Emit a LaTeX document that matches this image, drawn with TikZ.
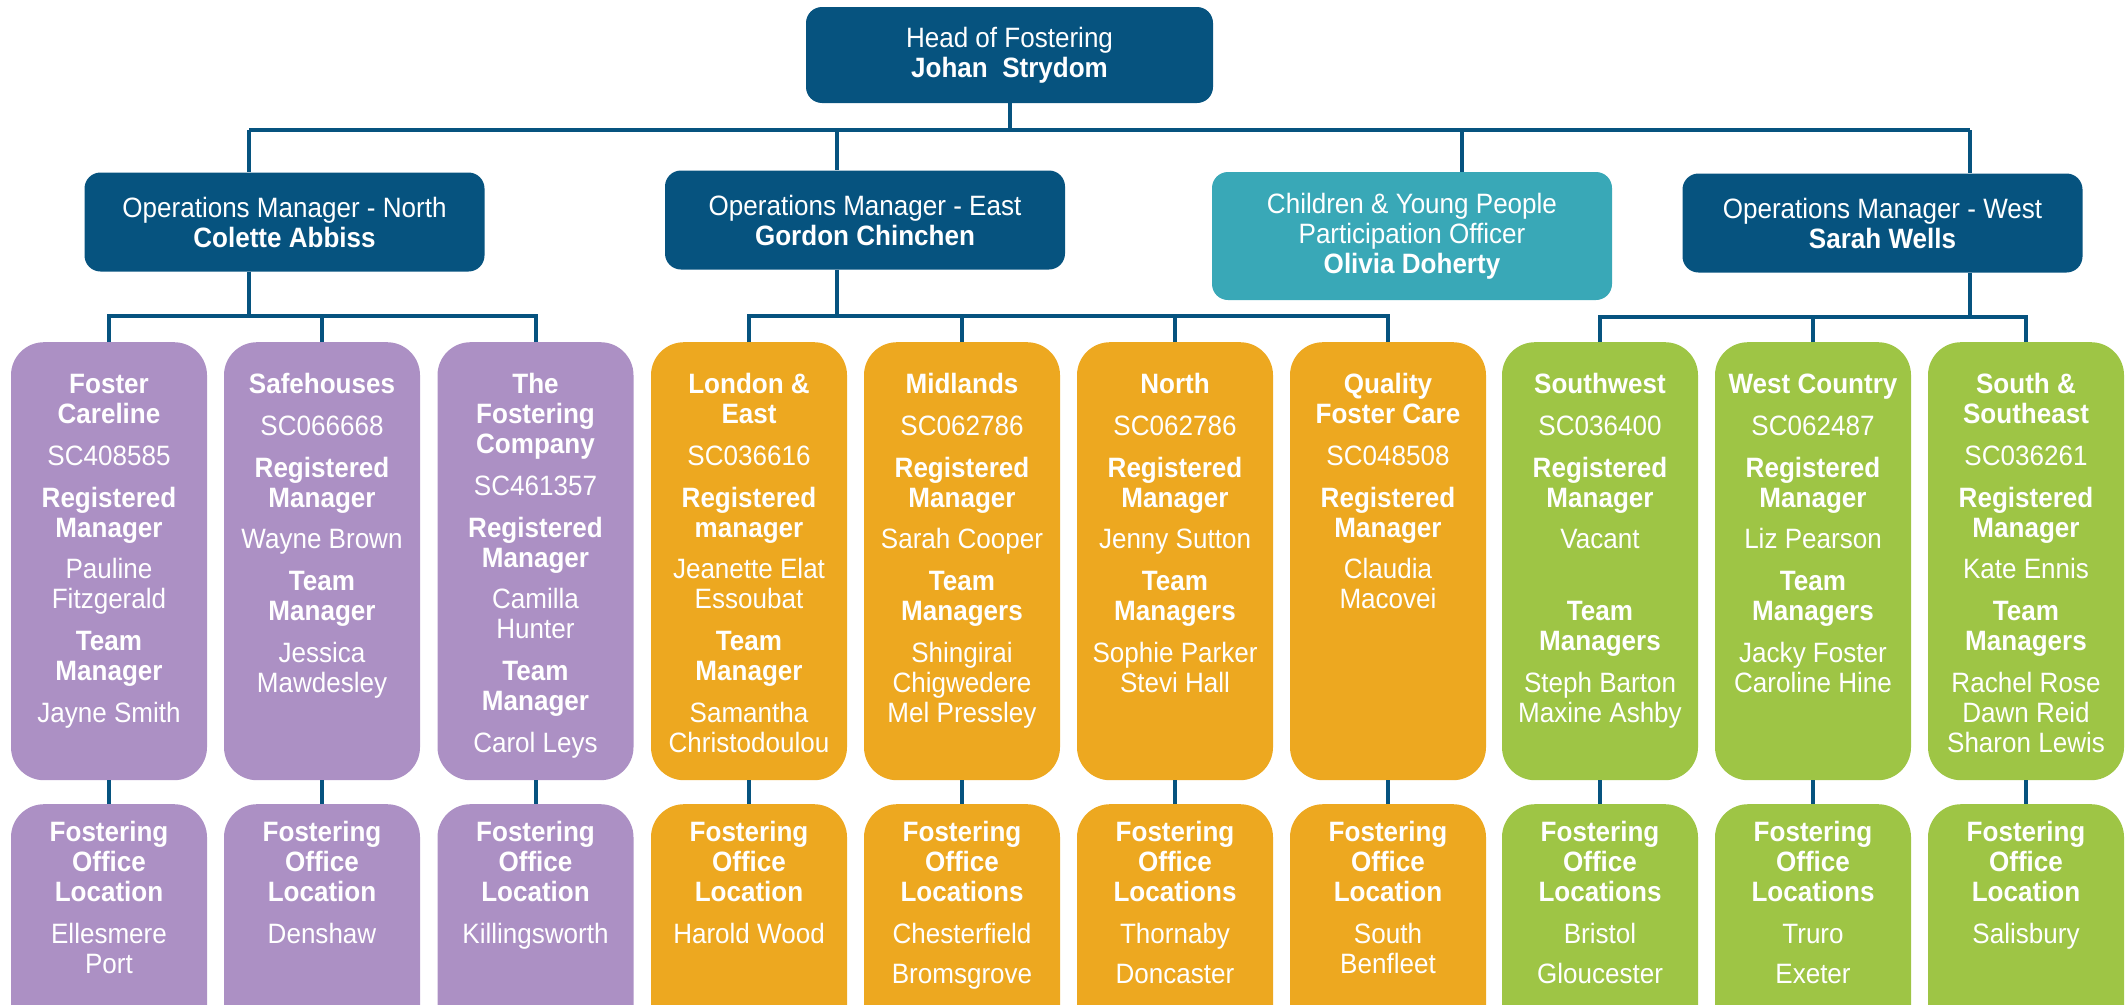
\documentclass[tikz,border=0pt]{standalone}
\usepackage{fontspec}
\setmainfont{Liberation Sans}[FakeStretch=0.93]
\usetikzlibrary{positioning,calc}
\definecolor{fosterblue}{RGB}{6,83,127}
\definecolor{youthteal}{RGB}{57,168,183}
\definecolor{northpurple}{RGB}{172,144,196}
\definecolor{eastorange}{RGB}{237,168,32}
\definecolor{westgreen}{RGB}{158,197,69}
\newcommand{\grp}{\par\vspace{11.7pt}}
\newcommand{\unittext}[1]{\parbox[c][438pt][t]{196pt}{\centering\vspace*{30.6pt}\strut#1}}
\newcommand{\officetext}[1]{\parbox[c][240pt][t]{196pt}{\centering\vspace*{16.7pt}\strut#1}}
\tikzset{
headbox/.style = {fill=fosterblue, rounded corners=16pt, text=white, align=center, inner sep=0pt, minimum width=407pt, minimum height=96pt, font=\fontsize{28}{30}\selectfont},
opsbox/.style = {headbox, minimum width=400pt, minimum height=99pt},
unitbox/.style = {rounded corners=33pt, text=white, inner sep=0pt, anchor=north, font=\fontsize{28}{30}\selectfont},
link/.style = {draw=fosterblue, line width=4pt}
}
\begin{document}
\begin{tikzpicture}[x=1pt, y=-1pt]
  \useasboundingbox (0,0) rectangle (2128,1004);
  \clip (0,0) rectangle (2128,1004);

  \node [headbox] (head) at (1009.5,55) {Head of Fostering\\\textbf{Johan~~Strydom}};
  \node [opsbox] (opn) at (284.5,222) {Operations Manager - North\\\textbf{Colette Abbiss}};
  \node [opsbox] (ope) at (865,220) {Operations Manager - East\\\textbf{Gordon Chinchen}};
  \node [opsbox, fill=youthteal, minimum height=128pt] (cyp) at (1412,236) {Children \& Young People\\Participation Officer\\\textbf{Olivia Doherty}};
  \node [opsbox] (opw) at (1882.5,223) {Operations Manager - West\\\textbf{Sarah Wells}};

  \node [unitbox, fill=northpurple] (u1) at (109,342) {\unittext{\textbf{Foster\\Careline}\grp SC408585\grp\textbf{Registered\\Manager}\grp Pauline\\Fitzgerald\grp\textbf{Team\\Manager}\grp Jayne Smith}};
  \node [unitbox, fill=northpurple] (u2) at (322,342) {\unittext{\textbf{Safehouses}\grp SC066668\grp\textbf{Registered\\Manager}\grp Wayne Brown\grp\textbf{Team\\Manager}\grp Jessica\\Mawdesley}};
  \node [unitbox, fill=northpurple] (u3) at (535.5,342) {\unittext{\textbf{The\\Fostering\\Company}\grp SC461357\grp\textbf{Registered\\Manager}\grp Camilla\\Hunter\grp\textbf{Team\\Manager}\grp Carol Leys}};
  \node [unitbox, fill=eastorange] (u4) at (749,342) {\unittext{\textbf{London \&\\East}\grp SC036616\grp\textbf{Registered\\manager}\grp Jeanette Elat\\Essoubat\grp\textbf{Team\\Manager}\grp Samantha\\Christodoulou}};
  \node [unitbox, fill=eastorange] (u5) at (962,342) {\unittext{\textbf{Midlands}\grp SC062786\grp\textbf{Registered\\Manager}\grp Sarah Cooper\grp\textbf{Team\\Managers}\grp Shingirai\\Chigwedere\\Mel Pressley}};
  \node [unitbox, fill=eastorange] (u6) at (1175,342) {\unittext{\textbf{North}\grp SC062786\grp\textbf{Registered\\Manager}\grp Jenny Sutton\grp\textbf{Team\\Managers}\grp Sophie Parker\\Stevi Hall}};
  \node [unitbox, fill=eastorange] (u7) at (1388,342) {\unittext{\textbf{Quality\\Foster Care}\grp SC048508\grp\textbf{Registered\\Manager}\grp Claudia\\Macovei}};
  \node [unitbox, fill=westgreen] (u8) at (1600,342) {\unittext{\textbf{Southwest}\grp SC036400\grp\textbf{Registered\\Manager}\grp Vacant\par\vspace{41.7pt}\textbf{Team\\Managers}\grp Steph Barton\\Maxine Ashby}};
  \node [unitbox, fill=westgreen] (u9) at (1813,342) {\unittext{\textbf{West Country}\grp SC062487\grp\textbf{Registered\\Manager}\grp Liz Pearson\grp\textbf{Team\\Managers}\grp Jacky Foster\\Caroline Hine}};
  \node [unitbox, fill=westgreen] (u10) at (2026,342) {\unittext{\textbf{South \&\\Southeast}\grp SC036261\grp\textbf{Registered\\Manager}\grp Kate Ennis\grp\textbf{Team\\Managers}\grp Rachel Rose\\Dawn Reid\\Sharon Lewis}};

  \node [unitbox, fill=northpurple] (b1) at (109,804) {\officetext{\textbf{Fostering\\Office\\Location}\grp Ellesmere\\Port}};
  \node [unitbox, fill=northpurple] (b2) at (322,804) {\officetext{\textbf{Fostering\\Office\\Location}\grp Denshaw}};
  \node [unitbox, fill=northpurple] (b3) at (535.5,804) {\officetext{\textbf{Fostering\\Office\\Location}\grp Killingsworth}};
  \node [unitbox, fill=eastorange] (b4) at (749,804) {\officetext{\textbf{Fostering\\Office\\Location}\grp Harold Wood}};
  \node [unitbox, fill=eastorange] (b5) at (962,804) {\officetext{\textbf{Fostering\\Office\\Locations}\grp Chesterfield\par\vspace{10pt}Bromsgrove}};
  \node [unitbox, fill=eastorange] (b6) at (1175,804) {\officetext{\textbf{Fostering\\Office\\Locations}\grp Thornaby\par\vspace{10pt}Doncaster}};
  \node [unitbox, fill=eastorange] (b7) at (1388,804) {\officetext{\textbf{Fostering\\Office\\Location}\grp South\\Benfleet}};
  \node [unitbox, fill=westgreen] (b8) at (1600,804) {\officetext{\textbf{Fostering\\Office\\Locations}\grp Bristol\par\vspace{10pt}Gloucester}};
  \node [unitbox, fill=westgreen] (b9) at (1813,804) {\officetext{\textbf{Fostering\\Office\\Locations}\grp Truro\par\vspace{10pt}Exeter}};
  \node [unitbox, fill=westgreen] (b10) at (2026,804) {\officetext{\textbf{Fostering\\Office\\Location}\grp Salisbury}};

  \coordinate (jn) at (249,130);
  \coordinate (je) at (837,130);
  \coordinate (jc) at (1462,130);
  \coordinate (jw) at (1970,130);
  \coordinate (sn) at (249,316);
  \coordinate (se) at (837,316);
  \coordinate (sw) at (1970,317);

  \draw [link] (head.south) |- (jn);
  \draw [link] (head.south) |- (jw);
  \draw [link] (jn) -- (jn |- opn.north);
  \draw [link] (je) -- (je |- ope.north);
  \draw [link] (jc) -- (jc |- cyp.north);
  \draw [link] (jw) -- (jw |- opw.north);

  \draw [link] (jn |- opn.south) -- (sn);
  \draw [link] (je |- ope.south) -- (se);
  \draw [link] (jw |- opw.south) -- (sw);
  \draw [link] (u1.north) |- (sn);
  \draw [link] (u2.north) |- (sn);
  \draw [link] (u3.north) |- (sn);
  \draw [link] (u4.north) |- (se);
  \draw [link] (u5.north) |- (se);
  \draw [link] (u6.north) |- (se);
  \draw [link] (u7.north) |- (se);
  \draw [link] (u8.north) |- (sw);
  \draw [link] (u9.north) |- (sw);
  \draw [link] (u10.north) |- (sw);

  \draw [link] (u1.south) -- (b1.north);
  \draw [link] (u2.south) -- (b2.north);
  \draw [link] (u3.south) -- (b3.north);
  \draw [link] (u4.south) -- (b4.north);
  \draw [link] (u5.south) -- (b5.north);
  \draw [link] (u6.south) -- (b6.north);
  \draw [link] (u7.south) -- (b7.north);
  \draw [link] (u8.south) -- (b8.north);
  \draw [link] (u9.south) -- (b9.north);
  \draw [link] (u10.south) -- (b10.north);
\end{tikzpicture}
\end{document}
